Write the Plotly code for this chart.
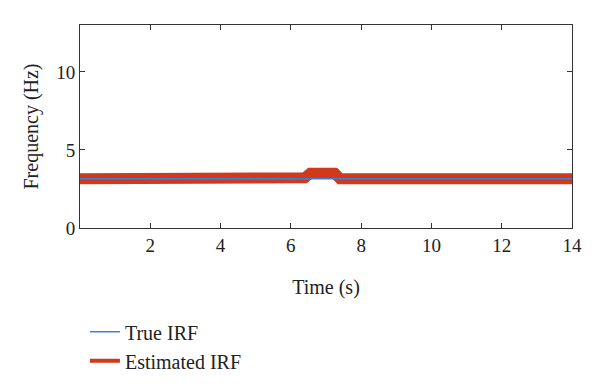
import plotly.graph_objects as go

# True IRF
true_t = [0.0, 14.0]
true_f = [3.15, 3.15]

# Estimated IRF
est_t = [0.0, 4.8, 4.9, 5.0, 5.1, 5.2, 5.3, 5.4, 5.5, 5.6, 5.7, 5.8, 5.9, 6.0, 6.1, 6.2, 6.3, 6.4,
         6.55, 6.7, 6.9, 7.1, 7.25, 7.4, 12.9, 13.0, 13.1, 13.2, 13.3, 13.4, 14.0]
est_f = [3.15, 3.15, 3.29, 3.19, 3.29, 3.19, 3.29, 3.19, 3.29, 3.19, 3.29, 3.19, 3.29, 3.19, 3.29, 3.19, 3.29, 3.22,
         3.5, 3.5, 3.5, 3.5, 3.5, 3.15, 3.15, 3.2, 3.15, 3.2, 3.15, 3.2, 3.15]

x_ticks = [2, 4, 6, 8, 10, 12, 14]
y_ticks = [0, 5, 10]

RED = "#D0391A"
BLUE = "#3F7FD8"
FONT = "Liberation Serif"
TXT = "#222222"

fig = go.Figure()
fig.add_trace(go.Scatter(x=est_t, y=est_f, mode="lines", name="Estimated IRF",
                         line=dict(color=RED, width=11), showlegend=False, hoverinfo="skip"))
fig.add_trace(go.Scatter(x=true_t, y=true_f, mode="lines", name="True IRF",
                         line=dict(color=BLUE, width=1.5), showlegend=False, hoverinfo="skip"))
# legend entries
fig.add_trace(go.Scatter(x=[None], y=[None], mode="lines", name="True IRF",
                         line=dict(color=BLUE, width=1.5)))
fig.add_trace(go.Scatter(x=[None], y=[None], mode="lines", name="Estimated IRF",
                         line=dict(color=RED, width=4)))

axis_common = dict(showline=True, linecolor="#333333", linewidth=1, mirror="ticks",
                   ticks="inside", ticklen=5, tickcolor="#333333", showgrid=False,
                   zeroline=False, automargin=False,
                   tickfont=dict(family=FONT, size=19, color=TXT))

fig.update_layout(
    width=600, height=389,
    margin=dict(l=80, r=28, t=25, b=161, autoexpand=False),
    paper_bgcolor="white", plot_bgcolor="white",
    font=dict(family=FONT, size=19, color=TXT),
    xaxis=dict(range=[0, 14], tickvals=x_ticks,
               title=dict(text="Time (s)", font=dict(family=FONT, size=20), standoff=25),
               **axis_common),
    yaxis=dict(range=[0, 13], tickvals=y_ticks,
               title=dict(text="Frequency (Hz)", font=dict(family=FONT, size=20), standoff=12),
               **axis_common),
    legend=dict(x=0.01, y=-0.415, xanchor="left", yanchor="top",
                font=dict(family=FONT, size=20, color=TXT), bgcolor="rgba(0,0,0,0)",
                tracegroupgap=0),
    showlegend=True,
    hovermode=False,
)

fig.write_html("out.html", config={"displayModeBar": False},
               post_script="document.body.style.margin='0';document.body.style.padding='0';")
